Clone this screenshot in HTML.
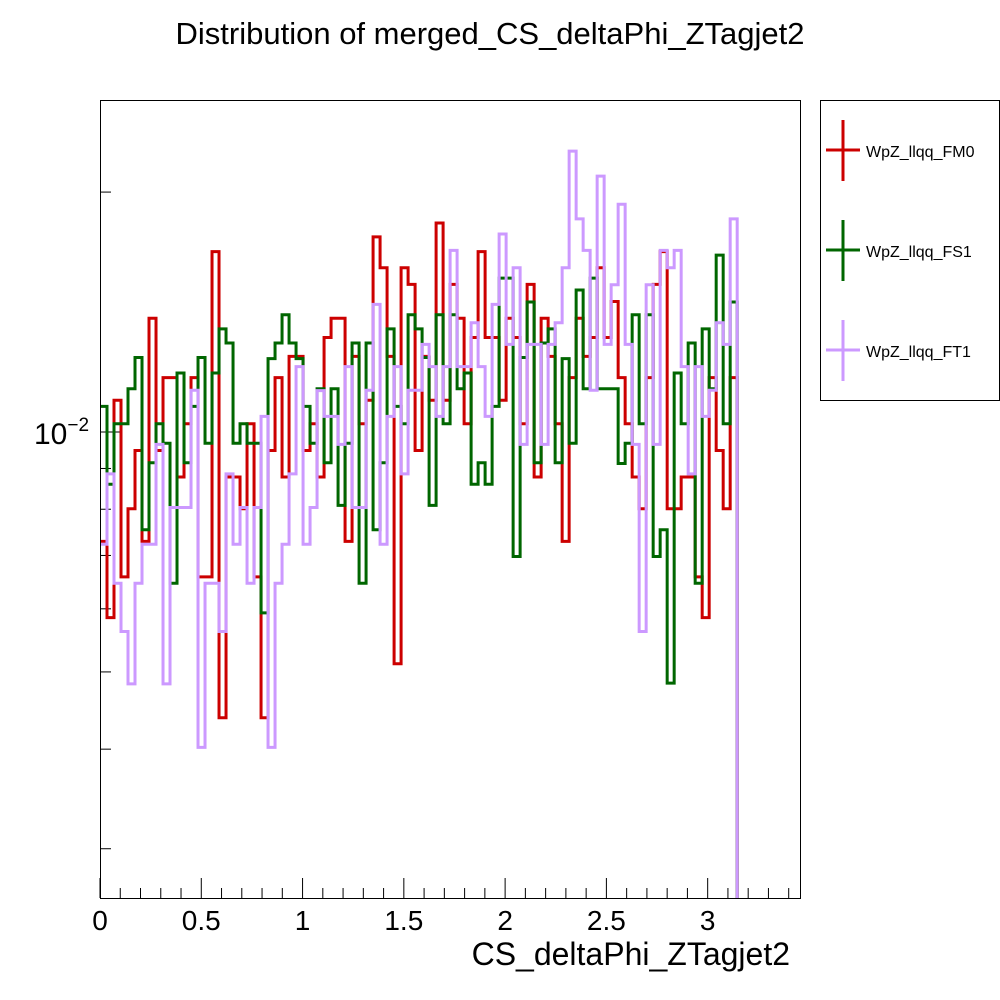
<!DOCTYPE html>
<html><head><meta charset="utf-8"><style>
html,body{margin:0;padding:0;background:#fff;}
svg{display:block;font-family:"Liberation Sans",Arial,sans-serif;}
</style></head><body>
<svg id="chart" width="1000" height="1000" viewBox="0 0 1000 1000" xmlns="http://www.w3.org/2000/svg">
<rect x="0" y="0" width="1000" height="1000" fill="#fff"/>
<text x="490" y="44" font-size="31" text-anchor="middle">Distribution of merged_CS_deltaPhi_ZTagjet2</text>
<g id="plot"></g>
<rect x="100.5" y="100.5" width="700" height="798" fill="none" stroke="#000" stroke-width="1"/>
<text x="790" y="965" font-size="32" text-anchor="end">CS_deltaPhi_ZTagjet2</text>
<g>
<rect x="820.5" y="100.5" width="179" height="300" fill="#fff" stroke="#000" stroke-width="1"/>
<g>
<line x1="843" y1="120" x2="843" y2="181" stroke="#cc0000" stroke-width="3"/><line x1="826" y1="150" x2="860" y2="150" stroke="#cc0000" stroke-width="3"/>
<text x="866" y="157" font-size="16">WpZ_llqq_FM0</text></g>
<g>
<line x1="843" y1="220" x2="843" y2="281" stroke="#006600" stroke-width="3"/><line x1="826" y1="250" x2="860" y2="250" stroke="#006600" stroke-width="3"/>
<text x="866" y="257" font-size="16">WpZ_llqq_FS1</text></g>
<g>
<line x1="843" y1="320" x2="843" y2="381" stroke="#cc99ff" stroke-width="3"/><line x1="826" y1="350" x2="860" y2="350" stroke="#cc99ff" stroke-width="3"/>
<text x="866" y="357" font-size="16">WpZ_llqq_FT1</text></g>
</g>
</svg>
<script>
const xTickLabels = ["0","0.5","1","1.5","2","2.5","3"];
const xTickValues = [0,0.5,1,1.5,2,2.5,3];
const yMinorValues = [0.003,0.004,0.005,0.006,0.007,0.008,0.009,0.02];
const binCount = 91;
const binMax = 3.1457;
const seriesNames = ["WpZ_llqq_FM0","WpZ_llqq_FS1","WpZ_llqq_FT1"];
const redValues = [.00729,.00585,.01096,.00658,.00801,.00948,.00729,.01389,.00948,.01170,.01170,.00878,.01024,.01170,.00658,.00658,.01684,.00438,.00878,.00878,.00801,.01024,.00658,.00438,.00948,.01170,.00878,.01244,.01244,.00948,.01024,.00878,.01314,.01389,.01389,.00729,.01244,.01024,.01096,.01757,.01607,.01244,.00512,.01607,.01532,.00948,.01244,.01096,.01829,.01096,.01532,.01389,.01024,.01314,.01684,.01314,.01314,.01096,.01389,.01314,.01024,.01532,.00878,.01389,.01244,.01024,.00729,.01170,.01389,.01244,.01314,.01607,.01314,.01458,.01170,.01024,.00878,.00801,.01170,.01532,.01684,.00801,.00801,.00878,.00878,.00658,.00585,.01170,.00948,.00801,.01170];
const greenValues = [.01077,.00860,.01024,.01024,.01133,.01240,.00754,.00915,.01024,.00968,.00646,.01186,.00915,.01077,.01240,.00968,.01186,.01347,.01293,.00968,.01024,.00968,.00968,.00593,.01236,.01293,.01403,.01293,.01236,.01077,.00968,.01133,.00915,.01133,.00809,.00968,.01293,.00646,.01293,.00754,.00915,.01347,.01077,.01024,.01403,.01347,.01240,.00809,.01403,.01024,.01403,.01133,.01186,.00860,.00915,.00860,.01077,.01560,.01560,.00698,.01240,.01456,.00915,.01293,.01347,.00915,.01236,.00968,.01507,.01133,.01560,.01133,.01133,.01133,.00913,.00968,.01403,.01024,.01403,.00698,.00754,.00484,.01186,.01024,.01293,.00646,.01347,.01133,.01667,.01024,.01456];
const purpleValues = [.00723,.00886,.00646,.00562,.00483,.00646,.00723,.00723,.00965,.00483,.00804,.00804,.00804,.01128,.00402,.00646,.00646,.00562,.00886,.00723,.00804,.00646,.00804,.01046,.00402,.00646,.00723,.00886,.01208,.00723,.00804,.01127,.01046,.01046,.00965,.01208,.00804,.00804,.01128,.01446,.00723,.01046,.01208,.00886,.01128,.01128,.01288,.01208,.01046,.01208,.01690,.01208,.01208,.01371,.01208,.01046,.01446,.01772,.01288,.01607,.00965,.01288,.01288,.00965,.01288,.01371,.01607,.02251,.01851,.01690,.01128,.02094,.01288,.01530,.01931,.01288,.00965,.00562,.01530,.00965,.01690,.01607,.01690,.01208,.00886,.01208,.01046,.01128,.01371,.01288,.01851];

const NS = "http://www.w3.org/2000/svg";
const X0 = 100, X1 = 800, XMAX = 3.4558;
const Y0 = 898, Y1 = 100;
const PX_PER_DEC = 797, Y_REF = 432;
function xScale(v){ return X0 + v/XMAX*(X1-X0); }
function yScale(v){ return Y_REF - (Math.log10(v)+2)*PX_PER_DEC; }
const plot = document.getElementById('plot');
function mk(tag, attrs){ const e=document.createElementNS(NS,tag); for(const k in attrs) e.setAttribute(k,attrs[k]); return e; }

for(let i=0;i<=34;i++){
  const v=i*0.1, x=xScale(v), major=(i%5===0);
  const t=mk('line',{x1:x,y1:Y0,x2:x,y2:Y0-(major?20:10),stroke:'#000','stroke-width':1});
  
  
  plot.appendChild(t);
}
xTickValues.forEach((v,i)=>{
  const t=mk('text',{x:xScale(v),y:930,'font-size':28,'text-anchor':'middle'});
  t.textContent=xTickLabels[i];
  
  
  plot.appendChild(t);
});
yMinorValues.forEach(v=>{
  const y=yScale(v);
  const t=mk('line',{x1:X0,y1:y,x2:X0+11,y2:y,stroke:'#000','stroke-width':1});
  
  
  plot.appendChild(t);
});
{
  const y=yScale(0.01);
  const t=mk('line',{x1:X0,y1:y,x2:X0+22,y2:y,stroke:'#000','stroke-width':1});
  
  
  plot.appendChild(t);
  const lb=mk('text',{x:34,y:y+12,'font-size':30});
  lb.innerHTML='10<tspan dy="-13" font-size="19">\u22122</tspan>';
  
  
  plot.appendChild(lb);
}
function drawHist(vals,color,name){
  const w=binMax/binCount;
  let d='';
  vals.forEach((v,i)=>{
    const xa=xScale(i*w), xb=xScale((i+1)*w), y=yScale(v);
    d += (i===0?'M':'L')+xa.toFixed(2)+' '+y.toFixed(2)+' L'+xb.toFixed(2)+' '+y.toFixed(2)+' ';
  });
  d += 'L'+xScale(binMax).toFixed(2)+' '+Y0;
  const p=mk('path',{d:d,fill:'none',stroke:color,'stroke-width':3,'stroke-linejoin':'miter'});
  
  
  plot.appendChild(p);
}
drawHist(redValues,'#cc0000','series-fm0');
drawHist(greenValues,'#006600','series-fs1');
drawHist(purpleValues,'#cc99ff','series-ft1');
</script>
</body></html>
